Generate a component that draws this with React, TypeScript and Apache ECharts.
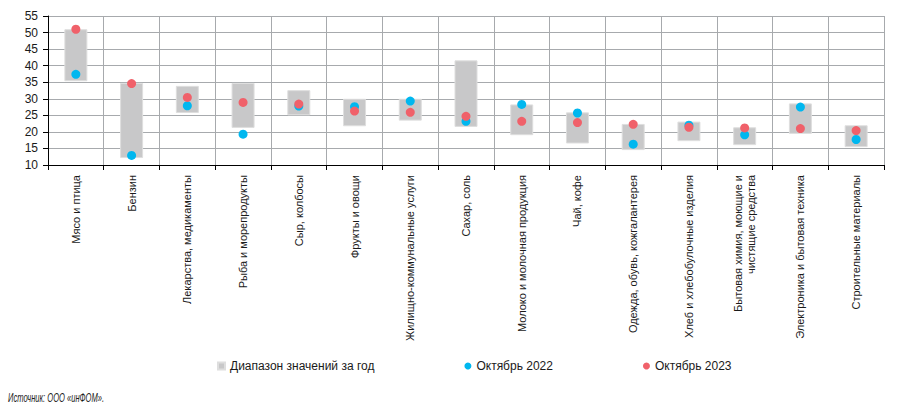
import React, { useEffect, useRef } from "react";
import * as echarts from "echarts";

const categories = [
  "Мясо и птица",
  "Бензин",
  "Лекарства, медикаменты",
  "Рыба и морепродукты",
  "Сыр, колбосы",
  "Фрукты и овощи",
  "Жилищно-коммунальные услуги",
  "Сахар, соль",
  "Молоко и молочная продукция",
  "Чай, кофе",
  "Одежда, обувь, кожгалантерея",
  "Хлеб и хлебобулочные изделия",
  "Бытовая химия, моющие и\nчистящие средства",
  "Электроника и бытовая техника",
  "Строительные материалы",
];

const rangeLow = [35.3, 12.1, 25.7, 21.2, 25.0, 21.7, 23.4, 21.5, 19.0, 16.5, 14.5, 17.2, 16.0, 19.4, 15.4];
const rangeHigh = [51.0, 34.8, 33.9, 34.8, 32.6, 30.0, 30.0, 41.6, 28.3, 25.9, 22.4, 23.1, 21.4, 28.6, 22.0];
const oct2022 = [37.4, 12.9, 27.9, 19.3, 27.8, 27.6, 29.3, 23.2, 28.3, 25.7, 16.3, 22.0, 19.1, 27.5, 17.7];
const oct2023 = [51.0, 34.6, 30.4, 28.9, 28.4, 26.3, 25.9, 24.7, 23.2, 22.8, 22.3, 21.4, 21.2, 21.0, 20.4];

const NAME_RANGE = "Диапазон значений за год";
const NAME_2022 = "Октябрь 2022";
const NAME_2023 = "Октябрь 2023";

export default function App() {
  const ref = useRef<HTMLDivElement>(null);

  useEffect(() => {
    if (!ref.current) return;
    const chart = echarts.init(ref.current, null, { renderer: "svg" });
    const gridColor = "#a7aaad";
    const sans = "'Liberation Sans', Arial, sans-serif";
    chart.setOption({
      animation: false,
      backgroundColor: "#ffffff",
      grid: { left: 48, right: 13, top: 16, bottom: 247, containLabel: false },
      legend: {
        left: 212,
        top: 355,
        itemWidth: 7,
        itemHeight: 7,
        itemGap: 90,
        textStyle: { fontFamily: sans, fontSize: 12, color: "#1a1a1a" },
        data: [
          { name: NAME_RANGE, icon: "rect" },
          { name: NAME_2022, icon: "circle" },
          { name: NAME_2023, icon: "circle" },
        ],
      },
      graphic: [
        {
          type: "text",
          x: 8,
          y: 398,
          scaleX: 0.63,
          style: {
            text: "Источник: ООО «инФОМ».",
            fontFamily: sans,
            fontStyle: "italic",
            fontSize: 12,
            fill: "#1a1a1a",
            textAlign: "left",
            textVerticalAlign: "middle",
          },
        },
      ],
      xAxis: {
        type: "category",
        data: categories,
        boundaryGap: true,
        axisLine: { show: true, lineStyle: { color: "#000", width: 1 } },
        axisTick: { show: true, length: 5, interval: 0, lineStyle: { color: "#000" } },
        splitLine: { show: true, interval: 0, lineStyle: { color: gridColor, width: 1 } },
        axisLabel: {
          interval: 0,
          rotate: 90,
          margin: 10,
          fontFamily: sans,
          fontSize: 11,
          color: "#1a1a1a",
          lineHeight: 13,
        },
      },
      yAxis: {
        type: "value",
        min: 10,
        max: 55,
        interval: 5,
        axisLine: { show: true, lineStyle: { color: "#000", width: 1 } },
        axisTick: { show: true, length: 5, lineStyle: { color: "#000" } },
        splitLine: { show: true, lineStyle: { color: gridColor, width: 1 } },
        axisLabel: {
          margin: 10,
          fontFamily: sans,
          fontSize: 12,
          color: "#1a1a1a",
        },
      },
      series: [
        {
          name: "base",
          type: "bar",
          stack: "range",
          barWidth: 23,
          silent: true,
          itemStyle: { color: "transparent" },
          data: rangeLow,
        },
        {
          name: NAME_RANGE,
          type: "bar",
          stack: "range",
          barWidth: 23,
          itemStyle: { color: "#c8c8c9", borderColor: "#dedede", borderWidth: 1 },
          data: rangeHigh.map((h, i) => +(h - rangeLow[i]).toFixed(2)),
        },
        {
          name: NAME_2022,
          type: "scatter",
          symbol: "circle",
          symbolSize: 9,
          itemStyle: { color: "#00b7ef", opacity: 1 },
          data: oct2022,
          z: 3,
        },
        {
          name: NAME_2023,
          type: "scatter",
          symbol: "circle",
          symbolSize: 9,
          itemStyle: { color: "#f0616a", opacity: 1 },
          data: oct2023,
          z: 4,
        },
      ],
    });
    return () => chart.dispose();
  }, []);

  return (
    <div
      ref={ref}
      style={{ position: "fixed", left: 0, top: 0, width: 897, height: 412 }}
    />
  );
}
